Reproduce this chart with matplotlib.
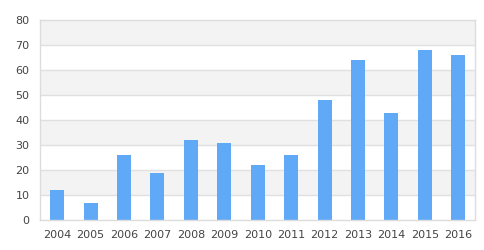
import matplotlib
matplotlib.use("Agg")
import matplotlib.pyplot as plt
import numpy as np

years = ["2004", "2005", "2006", "2007", "2008", "2009", "2010", "2011",
         "2012", "2013", "2014", "2015", "2016"]
values = [12, 7, 26, 19, 32, 31, 22, 26, 48, 64, 43, 68, 66]
y_ticks = [0, 10, 20, 30, 40, 50, 60, 70, 80]

fig = plt.figure(figsize=(4.85, 2.5), dpi=100)
ax = fig.add_axes([40.5 / 485, 30 / 250, 434.5 / 485, 200 / 250])

x = np.arange(len(years))
ax.set_xlim(-0.5, len(years) - 0.5)
ax.set_ylim(0, 80)

# alternating split areas
for i in range(len(y_ticks) - 1):
    if i % 2 == 1:
        ax.axhspan(y_ticks[i], y_ticks[i + 1], color="#f3f3f3", zorder=0, lw=0)
for t in y_ticks[1:-1]:
    ax.axhline(t, color="#e0e0e0", lw=1, zorder=1)

ax.bar(x, values, width=0.42, color="#60a9f6", zorder=2)

ax.set_xticks(x)
ax.set_xticklabels(years)
ax.set_yticks(y_ticks)
ax.tick_params(axis="both", length=0, labelsize=8, colors="#444444")
ax.tick_params(axis="x", pad=7)
ax.tick_params(axis="y", pad=8)
for s in ax.spines.values():
    s.set_color("#dcdcdc")
    s.set_linewidth(1)

fig.savefig("out.png", dpi=100)
